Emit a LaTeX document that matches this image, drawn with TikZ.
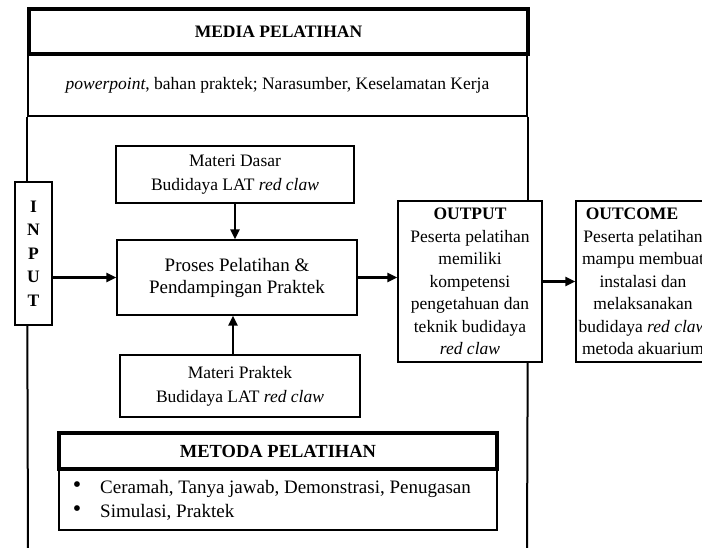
\documentclass[tikz,border=0pt]{standalone}
\usepackage{fontspec}
\setmainfont{Liberation Serif}
\usetikzlibrary{arrows.meta}
\begin{document}
\begin{tikzpicture}[x=1pt,y=-1pt,
  box/.style={draw, line width=1.4pt, inner sep=0pt, align=center},
  thickbox/.style={draw, line width=4pt, inner sep=0pt, align=center},
  arr/.style={line width=2.4pt, -{Triangle[length=10pt,width=9pt]}},
  frameline/.style={line width=2pt},
  fs/.style={font=\fontsize{17.5}{22.5}\selectfont},
  fb/.style={font=\fontsize{17.5}{23.5}\selectfont\bfseries},
  bul/.style={font=\fontsize{24}{24}\selectfont, inner sep=0pt},
  lst/.style={font=\fontsize{19}{22}\selectfont, inner sep=0pt, anchor=base west}]
\useasboundingbox (0,0) rectangle (702,548);
\clip (0,0) rectangle (702,548);
% media
\node[box, fs, minimum width=499pt, minimum height=61pt] (media) at (277.5,85.5)
  {\textit{powerpoint}, bahan praktek; Narasumber, Keselamatan Kerja};
\node[thickbox, fb, minimum width=499pt, minimum height=45pt] (mhead) at (278.5,32) {MEDIA PELATIHAN};
% input
\node[box, fb, minimum width=37pt, minimum height=143pt] (input) at (33.5,253.5) {I\\N\\P\\U\\T};
% materi
\node[box, font=\fontsize{17.5}{24}\selectfont, minimum width=238pt, minimum height=57pt] (dasar) at (235,174.5)
  {Materi Dasar\\Budidaya LAT \textit{red claw}};
\node[box, font=\fontsize{19}{22}\selectfont, minimum width=240pt, minimum height=75pt] (proses) at (237,277.5)
  {Proses Pelatihan \&\\Pendampingan Praktek};
\node[box, font=\fontsize{17.5}{24}\selectfont, minimum width=240pt, minimum height=62pt] (praktek) at (240,386)
  {Materi Praktek\\Budidaya LAT \textit{red claw}};
% output / outcome
\node[box, fs, minimum width=144pt, minimum height=161pt] (output) at (470,281.5)
  {\textbf{OUTPUT}\\Peserta pelatihan\\memiliki\\kompetensi\\pengetahuan dan\\teknik budidaya\\\textit{red claw}};
\node[box, fs, minimum width=134pt, minimum height=161pt] (outcome) at (643,281.5)
  {\textbf{OUTCOME}\kern22pt\\Peserta pelatihan\\mampu membuat\\instalasi dan\\melaksanakan\\budidaya \textit{red claw}\\metoda akuarium};
% metoda
\node[box, minimum width=438pt, minimum height=61pt] (list) at (278,499.5) {};
\node[thickbox, font=\fontsize{18.5}{22}\selectfont\bfseries, minimum width=438pt, minimum height=36pt] (mhead2) at (278,451) {METODA PELATIHAN};
\node[bul] (b1) at (77,487) {•};
\node[bul] (b2) at (77,511) {•};
\node[lst] (t1) at (100,493.5) {Ceramah, Tanya jawab, Demonstrasi, Penugasan};
\node[lst] (t2) at (100,517.5) {Simulasi, Praktek};
% frame lines
\coordinate (lb) at (28,548);
\coordinate (rb) at (527,548);
\draw[frameline] (media.south west) -- (media.south west |- input.north);
\draw[frameline] (media.south west |- input.south) -- (lb);
\draw[frameline] (media.south east) -- (media.south east |- output.north);
\draw[frameline] (media.south east |- output.south) -- (rb);
% arrows
\draw[arr] (input.east |- proses.west) -- (proses.west);
\draw[arr] (proses.east) -- (output.west |- proses.east);
\draw[arr] (output.east) -- (outcome.west);
\draw[arr] (dasar.south) -- (dasar.south |- proses.north);
\coordinate (pk) at ([xshift=-7pt]praktek.north);
\draw[arr] (pk) -- (pk |- proses.south);
\end{tikzpicture}
\end{document}
